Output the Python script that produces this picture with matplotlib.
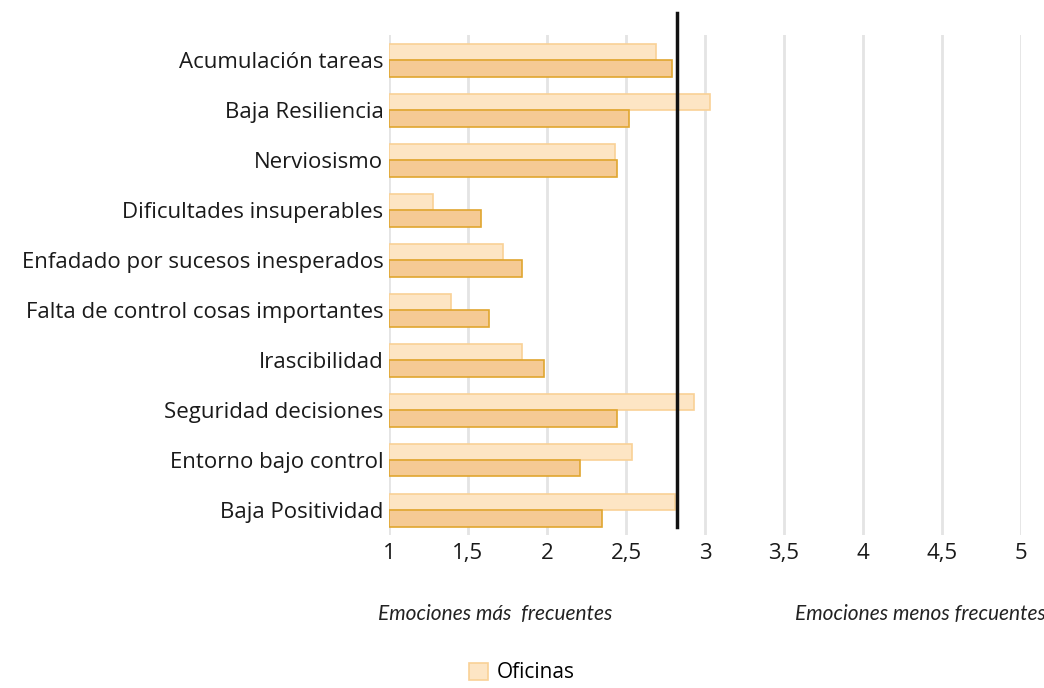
import numpy as np
import matplotlib
matplotlib.use("Agg")
import matplotlib.pyplot as plt

plt.rcParams['font.family'] = ['Open Sans', 'DejaVu Sans']

categorias = ['Acumulación tareas', 'Baja Resiliencia', 'Nerviosismo',
              'Dificultades insuperables', 'Enfadado por sucesos inesperados',
              'Falta de control cosas importantes', 'Irascibilidad',
              'Seguridad decisiones', 'Entorno bajo control', 'Baja Positividad']
oficinas = [2.69, 3.03, 2.43, 1.28, 1.72, 1.39, 1.84, 2.93, 2.54, 2.81]
segunda_serie = [2.79, 2.52, 2.44, 1.58, 1.84, 1.63, 1.98, 2.44, 2.21, 2.35]
media = 2.82
xticks = [1, 1.5, 2, 2.5, 3, 3.5, 4, 4.5, 5]
xticklabels = ['1', '1,5', '2', '2,5', '3', '3,5', '4', '4,5', '5']

fig = plt.figure(figsize=(10.44, 6.88), dpi=100)
ax = fig.add_axes([389/1044, 1 - 535/688, (1021 - 389)/1044, 500/688])

y = np.arange(len(categorias))
h = 0.33
ax.barh(y - h/2, np.array(oficinas) - 1, left=1, height=h,
        color='#FDE5C4', edgecolor='#F9D196', linewidth=1.2, label='Oficinas', zorder=3)
ax.barh(y + h/2, np.array(segunda_serie) - 1, left=1, height=h,
        color='#F5CA94', edgecolor='#E0A630', linewidth=1.2, zorder=3)

# linea vertical de referencia
ax.axvline(media, ymin=0.016, ymax=1.044, color='#111111', linewidth=2.5,
           clip_on=False, zorder=5)

ax.set_xlim(1, 5)
ax.set_ylim(len(categorias) - 0.5, -0.5)
ax.set_yticks(y)
ax.set_yticklabels(categorias, fontsize=16, color='#1a1a1a')
ax.set_xticks(xticks)
ax.set_xticklabels(xticklabels, fontsize=16, color='#1a1a1a')
ax.tick_params(length=0, pad=4)
ax.tick_params(axis='x', pad=6)
ax.grid(axis='x', color='#E4E4E4', linewidth=2, zorder=0)
for s in ax.spines.values():
    s.set_visible(False)

fig.text(378/1044, 1 - 614/688, 'Emociones más  frecuentes', style='italic',
         family=['Lato', 'DejaVu Sans'], fontsize=15, color='#222222',
         va='center', ha='left')
fig.text(795/1044, 1 - 614/688, 'Emociones menos frecuentes', style='italic',
         family=['Lato', 'DejaVu Sans'], fontsize=15, color='#222222',
         va='center', ha='left')

fig.legend(handles=[ax.patches[0]], labels=['Oficinas'], loc='center',
           bbox_to_anchor=(522/1044, 1 - 673/688), frameon=False, fontsize=15,
           handlelength=0.9, handleheight=0.9, handletextpad=0.4)

fig.savefig('out.png', dpi=100, facecolor='white')
